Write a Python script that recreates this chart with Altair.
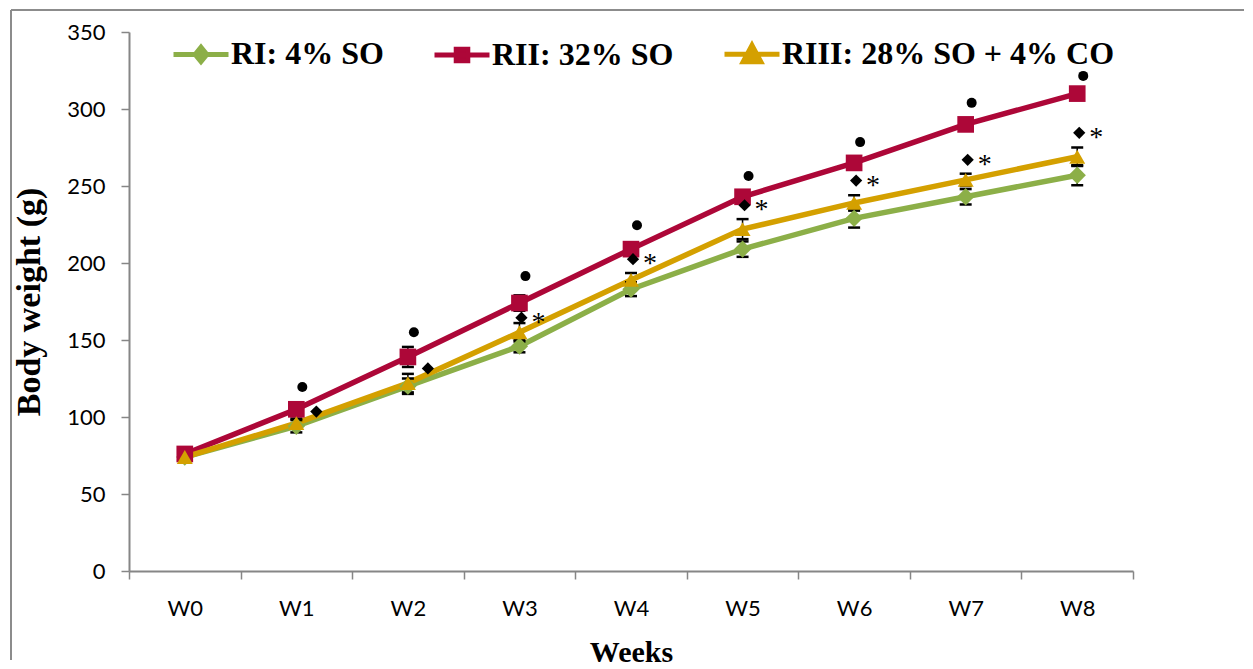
import altair as alt
import pandas as pd

weeks = ["W0", "W1", "W2", "W3", "W4", "W5", "W6", "W7", "W8"]
series_names = ["RI: 4% SO", "RII: 32% SO", "RIII: 28% SO + 4% CO"]
series_colors = ["#8CAF48", "#AD0738", "#D4A000"]

ri_mean = [74, 94, 120, 146, 183, 209, 229, 243, 257]
ri_err = [2, 4, 5, 4, 4.5, 5, 6, 5, 6.5]
rii_mean = [76, 105, 139, 174, 209, 243, 265, 290, 310]
rii_err = [2, 4, 6.5, 5, 3, 3, 3, 4, 3]
riii_mean = [74, 96, 122, 155, 189, 222, 239, 254, 269]
riii_err = [2, 3, 6, 6, 4.5, 6.5, 5, 4, 6]

# significance markers
dot_weeks = ["W1", "W2", "W3", "W4", "W5", "W6", "W7", "W8"]
dot_y = [119.5, 155, 191.5, 224.5, 256.5, 278.5, 304, 321.5]
lone_diamond_weeks = ["W1", "W2"]
lone_diamond_y = [103.5, 131.5]
star_weeks = ["W3", "W4", "W5", "W6", "W7", "W8"]
star_y = [164.5, 202.5, 237.5, 253.5, 267, 284.5]

rows = []
for name, means, errs in zip(series_names, [ri_mean, rii_mean, riii_mean], [ri_err, rii_err, riii_err]):
    for w, m, e in zip(weeks, means, errs):
        rows.append({"week": w, "series": name, "mean": m, "lo": m - e, "hi": m + e})
df = pd.DataFrame(rows)

dots_df = pd.DataFrame({"week": dot_weeks, "val": dot_y})
lone_df = pd.DataFrame({"week": lone_diamond_weeks, "val": lone_diamond_y})
star_df = pd.DataFrame({"week": star_weeks, "val": star_y, "sym": ["*"] * len(star_weeks)})
frame_df = pd.DataFrame({"a": [0]})

GRAY = "#868686"
TICKFONT = "Lato"

xscale = alt.Scale(type="band", domain=weeks, paddingInner=0, paddingOuter=0)
yscale = alt.Scale(domain=[0, 350], nice=False)

xaxis = alt.Axis(title="Weeks", labelAngle=0, tickBand="extent", tickSize=8, tickColor=GRAY,
                 tickWidth=1.5, domainColor=GRAY, domainWidth=2, labelFont=TICKFONT,
                 labelFontSize=22, labelColor="black", labelPadding=19, grid=False,
                 titleFont="Liberation Serif", titleFontWeight="bold", titleFontSize=30,
                 titleColor="black", titlePadding=18)
yaxis = alt.Axis(title="Body weight (g)", values=[0, 50, 100, 150, 200, 250, 300, 350],
                 tickSize=8, tickColor=GRAY, tickWidth=1.5, domainColor=GRAY, domainWidth=2,
                 labelFont=TICKFONT, labelFontSize=22, labelColor="black", labelPadding=16,
                 grid=False, titleFont="Liberation Serif", titleFontWeight="bold",
                 titleFontSize=34, titleColor="black", titlePadding=20)

X = alt.X("week:N", scale=xscale, sort=weeks, axis=xaxis)

paths = {
    series_names[0]: "M-1,0L1,0M0,-0.26L0.21,0L0,0.26L-0.21,0Z",
    series_names[1]: "M-1,0L1,0M-0.21,-0.21L0.21,-0.21L0.21,0.21L-0.21,0.21Z",
    series_names[2]: "M-1,0L1,0M0,-0.32L0.32,0.28L-0.32,0.28Z",
}
shape_signal = (
    f"datum.value === '{series_names[0]}' ? '{paths[series_names[0]]}' : "
    f"datum.value === '{series_names[1]}' ? '{paths[series_names[1]]}' : '{paths[series_names[2]]}'"
)

legend = alt.Legend(
    title=None, orient="none", legendX=42, legendY=-8, direction="horizontal",
    labelFont="Liberation Serif", labelFontSize=32, labelFontWeight="bold",
    labelColor="black", labelLimit=800, symbolSize=3025, symbolStrokeWidth=5,
    labelOffset=0, columnPadding=40, padding=0, symbolOpacity=1,
    symbolType=alt.ExprRef(expr=shape_signal),
    symbolStrokeColor=alt.ExprRef(expr="scale('color', datum.value)"),
    symbolFillColor=alt.ExprRef(expr="scale('color', datum.value)"),
)

cscale = alt.Scale(domain=series_names, range=series_colors)
color_plain = alt.Color("series:N", scale=cscale)
color_legend = alt.Color("series:N", scale=cscale, legend=legend)

base = alt.Chart(df)

lines = base.mark_line(strokeWidth=5.5).encode(
    x=X, y=alt.Y("mean:Q", scale=yscale, axis=yaxis), color=color_plain, detail="series:N"
)
err = base.mark_rule(color="black", strokeWidth=1.5).encode(x=X, y="lo:Q", y2="hi:Q")
cap_lo = base.mark_tick(color="black", thickness=2.5, size=12, opacity=1).encode(x=X, y="lo:Q")
cap_hi = base.mark_tick(color="black", thickness=2.5, size=12, opacity=1).encode(x=X, y="hi:Q")
points = base.mark_point(filled=True, opacity=1).encode(
    x=X, y="mean:Q", color=color_legend,
    shape=alt.Shape("series:N", scale=alt.Scale(domain=series_names, range=["diamond", "square", "triangle-up"]), legend=None),
    size=alt.Size("series:N", scale=alt.Scale(domain=series_names, range=[300, 256, 484]), legend=None),
)

dots = alt.Chart(dots_df).mark_point(shape="circle", filled=True, color="black", opacity=1, size=100, xOffset=6).encode(
    x=X, y="val:Q")
lone = alt.Chart(lone_df).mark_point(shape="diamond", filled=True, color="black", opacity=1, size=150, xOffset=20).encode(
    x=X, y="val:Q")
pair_d = alt.Chart(star_df).mark_point(shape="diamond", filled=True, color="black", opacity=1, size=150, xOffset=2).encode(
    x=X, y="val:Q")
stars = alt.Chart(star_df).mark_text(font="Liberation Serif", fontSize=28, color="black", dx=19, dy=13,
                                     baseline="alphabetic", align="center").encode(
    x=X, y="val:Q", text="sym:N")

frame_left = alt.Chart(frame_df).mark_rule(color="#8C8C8C", strokeWidth=2).encode(
    x=alt.value(-118), y=alt.value(-22), y2=alt.value(628))
frame_top = alt.Chart(frame_df).mark_rule(color="#8C8C8C", strokeWidth=2).encode(
    x=alt.value(-118), x2=alt.value(1115), y=alt.value(-22))

chart = alt.layer(
    frame_left, frame_top, lines, err, cap_lo, cap_hi, points, dots, lone, pair_d, stars
).resolve_scale(shape="independent", size="independent").properties(
    width=1004, height=539, padding={"left": 2, "top": 1, "right": 0, "bottom": 0}
).configure_view(stroke=None)

chart.save("out.html", embed_options={"renderer": "svg", "actions": False})
